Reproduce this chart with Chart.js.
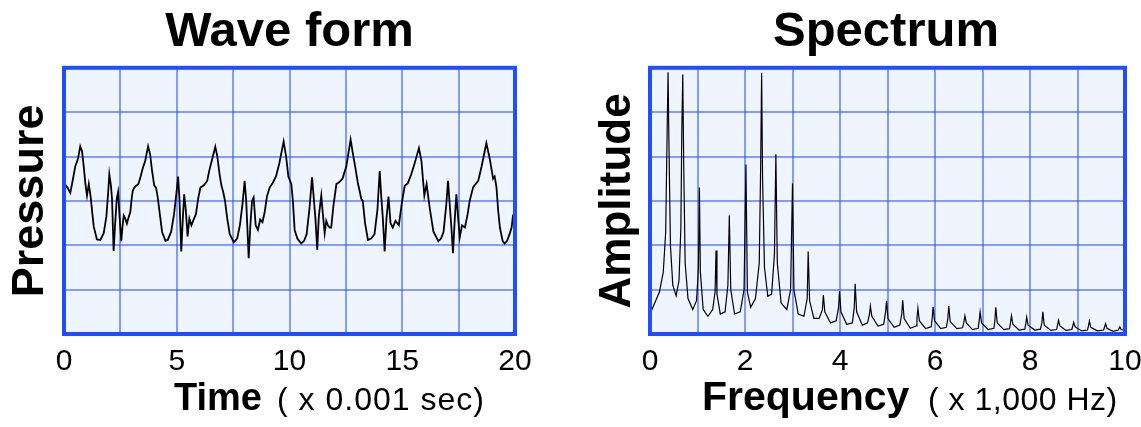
<!DOCTYPE html>
<html><head><meta charset="utf-8">
<script src="https://cdn.jsdelivr.net/npm/chart.js@4"></script>
<style>
html,body{margin:0;padding:0;background:#fff;overflow:hidden;width:1141px;height:427px;position:relative}
#c1{position:absolute;left:0;top:0}
#c2{position:absolute;left:590px;top:0}
</style></head><body>
<canvas id="c1" width="579" height="427"></canvas>
<canvas id="c2" width="592" height="427"></canvas>
<script>
// ---- Wave form (time in ms, pressure in arbitrary units) ----
const waveTime = [
 0.00,0.15,0.28,0.40,0.50,0.62,0.72,0.80,0.88,0.95,1.02,1.10,1.18,1.25,1.32,1.46,1.61,1.76,1.88,1.96,
 2.01,2.08,2.13,2.20,2.27,2.34,2.40,2.47,2.54,2.60,2.65,2.72,2.79,2.86,2.94,3.00,3.05,3.12,3.19,3.30,
 3.40,3.50,3.60,3.73,
 3.82,3.90,4.00,4.08,4.15,4.25,4.35,4.50,4.60,4.75,4.88,4.98,5.06,5.12,5.20,5.27,5.33,5.40,5.48,5.56,
 5.65,5.75,5.85,5.95,6.05,6.20,6.35,6.45,6.55,6.71,
 6.80,6.90,6.98,7.06,7.14,7.24,7.35,7.53,7.68,7.80,7.92,8.01,8.08,8.19,8.27,8.34,8.41,8.50,8.60,8.70,
 8.80,8.90,9.00,9.12,9.25,9.40,9.55,9.74,
 9.85,9.95,10.08,10.15,10.23,10.35,10.52,10.65,10.76,10.88,11.00,11.07,11.15,11.23,11.30,11.41,11.48,11.56,11.63,11.70,
 11.78,11.85,11.95,12.08,12.20,12.35,12.52,12.71,
 12.80,12.92,13.04,13.12,13.18,13.25,13.35,13.48,13.62,13.77,13.90,14.00,14.07,14.14,14.22,14.30,14.39,14.48,14.58,14.70,
 14.85,14.98,15.11,15.25,15.40,15.55,15.74,
 15.85,15.98,16.08,16.15,16.23,16.38,16.60,16.72,16.83,16.95,17.03,17.10,17.18,17.25,17.33,17.40,17.48,17.55,17.65,17.78,
 17.90,17.99,18.14,18.25,18.37,18.52,18.73,
 18.88,19.03,19.10,19.18,19.25,19.33,19.45,19.54,19.65,19.76,19.85,19.91,20.00
];
const wavePressure = [
 0.40,0.30,0.18,0.50,0.78,0.95,1.23,1.12,0.75,0.38,0.12,0.38,0.10,-0.25,-0.58,-0.87,-0.88,-0.73,-0.35,0.20,
 0.60,0.35,0.05,-1.13,-0.50,0.05,0.20,-0.40,-0.91,-0.55,-0.33,-0.40,-0.51,-0.38,-0.25,0.05,0.23,0.30,0.34,0.38,
 0.55,0.75,0.90,1.23,
 1.05,0.70,0.35,0.30,0.10,-0.30,-0.70,-0.90,-0.88,-0.70,-0.30,0.15,0.55,0.05,-1.14,-0.40,0.15,-0.20,-0.80,-0.40,
 -0.55,-0.42,-0.30,0.05,0.30,0.35,0.45,0.70,0.90,1.22,
 1.00,0.60,0.35,0.20,0.00,-0.40,-0.75,-0.93,-0.85,-0.55,-0.05,0.45,0.00,-1.29,-0.50,0.00,0.08,-0.55,-0.65,-0.42,
 -0.48,-0.25,0.10,0.30,0.40,0.55,0.85,1.34,
 1.00,0.55,0.38,0.00,-0.66,-0.85,-0.96,-0.90,-0.75,-0.20,0.53,0.10,-0.40,-1.10,-0.35,0.12,-0.30,-0.73,-0.45,-0.55,
 -0.60,-0.60,-0.10,0.38,0.42,0.50,0.78,1.38,
 1.10,0.75,0.38,0.20,0.05,0.00,-0.50,-0.88,-0.85,-0.75,-0.20,0.67,0.10,-0.40,-1.14,-0.40,0.10,-0.50,-0.60,-0.45,
 -0.55,-0.05,0.34,0.40,0.60,0.85,1.19,
 0.90,0.12,0.38,0.10,-0.20,-0.69,-0.91,-0.85,-0.70,-0.10,0.45,-0.05,-0.60,-1.18,-0.40,0.15,-0.40,-0.82,-0.55,-0.60,
 -0.30,0.00,0.30,0.38,0.45,0.78,1.30,
 0.95,0.50,0.55,0.30,-0.20,-0.60,-0.90,-0.96,-0.90,-0.75,-0.60,-0.33,-0.25
];
const waveTickLabels = [0, 5, 10, 15, 20];

// ---- Spectrum (frequency in kHz, amplitude in arbitrary units) ----
const specFreq = [
 0.00,0.10,0.20,0.28,0.33,0.36,0.38,0.40,0.43,0.48,0.55,0.61,0.65,0.67,0.69,0.71,0.74,0.80,0.90,0.98,
 1.02,1.04,1.06,1.12,1.22,1.32,1.37,1.39,1.41,1.48,1.58,1.64,1.67,1.70,1.78,1.90,1.98,2.02,2.05,2.12,
 2.22,2.30,2.33,2.35,2.37,2.41,2.48,2.56,2.62,2.65,2.68,2.76,2.88,2.96,3.00,3.03,3.12,3.24,3.31,3.33,
 3.36,3.45,3.56,3.63,3.65,3.68,3.80,3.92,3.97,3.99,4.02,4.14,4.26,4.30,4.32,4.35,4.47,4.58,4.62,4.64,
 4.67,4.80,4.92,4.96,4.98,5.01,5.14,5.26,5.30,5.32,5.35,5.48,5.60,5.62,5.64,5.67,5.80,5.92,5.94,5.96,
 5.99,6.12,6.24,6.27,6.29,6.32,6.46,6.58,6.61,6.63,6.66,6.79,6.91,6.93,6.95,6.98,7.12,7.24,7.26,7.28,
 7.31,7.45,7.57,7.59,7.61,7.64,7.77,7.89,7.91,7.93,7.96,8.10,8.22,8.25,8.27,8.30,8.44,8.56,8.58,8.60,
 8.63,8.76,8.88,8.90,8.92,8.95,9.09,9.21,9.23,9.25,9.28,9.42,9.55,9.57,9.59,9.62,9.75,9.86,9.89,9.92,
 10.00
];
const specAmp = [
 0.45,0.70,0.95,1.40,2.30,4.50,5.90,4.20,2.00,1.10,0.86,1.20,2.40,4.60,5.85,3.80,1.60,0.80,0.55,0.75,
 1.50,3.30,1.40,0.55,0.40,0.55,0.95,1.88,0.90,0.45,0.50,1.10,2.67,1.00,0.45,0.50,1.00,3.82,0.95,0.60,
 0.80,1.60,3.80,5.88,3.50,1.50,0.85,0.90,1.80,4.05,1.60,0.70,0.55,1.00,3.39,1.00,0.45,0.40,0.80,1.86,
 0.75,0.35,0.35,0.55,0.88,0.50,0.25,0.30,0.60,0.97,0.50,0.22,0.25,0.60,1.13,0.50,0.20,0.25,0.45,0.63,
 0.40,0.18,0.22,0.50,0.75,0.35,0.15,0.20,0.45,0.76,0.35,0.13,0.18,0.35,0.58,0.30,0.12,0.16,0.35,0.61,
 0.30,0.12,0.15,0.35,0.63,0.28,0.12,0.14,0.28,0.41,0.25,0.10,0.13,0.30,0.50,0.25,0.10,0.13,0.30,0.60,
 0.25,0.10,0.12,0.25,0.41,0.22,0.09,0.11,0.22,0.38,0.20,0.09,0.11,0.25,0.50,0.20,0.08,0.10,0.20,0.31,
 0.18,0.08,0.10,0.18,0.26,0.16,0.07,0.09,0.18,0.29,0.15,0.07,0.09,0.16,0.23,0.13,0.06,0.09,0.16,0.10,
 0.08
];
const specTickLabels = [0, 2, 4, 6, 8, 10];

// ---- styling ----
const FONT = "'Liberation Sans', Arial, Helvetica, sans-serif";
Chart.defaults.font.family = FONT;
Chart.defaults.color = '#000';
const PLOT_BG = '#eff5ff';
const GRID = 'rgba(40,80,255,0.55)';
const FRAME = '#1f4dff';

const bgPlugin = {
  id: 'bg',
  beforeDraw(chart) {
    const a = chart.chartArea, c = chart.ctx;
    c.save(); c.fillStyle = PLOT_BG;
    c.fillRect(a.left, a.top, a.right - a.left, a.bottom - a.top);
    c.restore();
  }
};
const framePlugin = {
  id: 'frame',
  afterDatasetsDraw(chart) {
    const a = chart.chartArea, c = chart.ctx;
    c.save(); c.strokeStyle = FRAME; c.lineWidth = 4;
    c.strokeRect(a.left, a.top, a.right - a.left, a.bottom - a.top);
    c.restore();
  },
  afterDraw(chart, args, o) {
    if (!o || !o.main) return;
    const c = chart.ctx;
    c.save(); c.fillStyle = '#000'; c.textBaseline = 'alphabetic'; c.textAlign = 'left';
    c.font = 'bold ' + o.mainSize + 'px ' + FONT;
    c.fillText(o.main, o.mainX, o.baseY);
    c.font = o.subSize + 'px ' + FONT;
    if ('letterSpacing' in c) c.letterSpacing = o.subSpacing;
    c.fillText(o.sub, o.subX, o.baseY);
    c.restore();
  }
};

function makeChart(id, cfg) {
  return new Chart(document.getElementById(id), {
    type: 'line',
    data: { datasets: [{
      data: cfg.xs.map((x, i) => ({ x: x, y: cfg.ys[i] })),
      borderColor: '#000', borderWidth: cfg.lw, pointRadius: 0, tension: 0, fill: false
    }]},
    options: {
      responsive: false, animation: false, events: [],
      layout: { padding: 0 },
      plugins: {
        legend: { display: false }, tooltip: { enabled: false },
        title: { display: true, text: cfg.title, color: '#000',
                 font: { size: 49, weight: 'bold' }, padding: { top: 3, bottom: 6 } },
        frame: cfg.frame
      },
      scales: {
        x: { type: 'linear', min: cfg.xmin, max: cfg.xmax,
             grid: { color: GRID, lineWidth: 2, drawTicks: false },
             border: { display: false },
             ticks: { stepSize: cfg.xstep, autoSkip: false, maxRotation: 0, padding: 10,
                      font: { size: 30 }, color: '#000',
                      callback: v => cfg.labels.includes(v) ? String(v) : '' },
             afterFit: s => { s.height = 93; } },
        y: { type: 'linear', min: cfg.ymin, max: cfg.ymax,
             grid: { color: GRID, lineWidth: 2, drawTicks: false },
             border: { display: false },
             ticks: { display: false, stepSize: 1 },
             title: { display: true, text: cfg.ytitle, color: '#000',
                      font: { size: cfg.ytsize, weight: 'bold' }, padding: { top: cfg.ytpad, bottom: 0 } },
             afterFit: s => { s.width = cfg.leftW; } },
        yR: { type: 'linear', position: 'right', display: true,
              grid: { display: false }, border: { display: false }, ticks: { display: false },
              afterFit: s => { s.width = cfg.rightW; } }
      }
    },
    plugins: [bgPlugin, framePlugin]
  });
}

makeChart('c1', {
  xs: waveTime, ys: wavePressure, lw: 1.8, title: 'Wave form',
  xmin: 0, xmax: 20, xstep: 2.5, labels: waveTickLabels,
  ymin: -3, ymax: 3, ytitle: 'Pressure', ytsize: 45, ytpad: 4, leftW: 64, rightW: 64,
  frame: { main: 'Time', sub: '( x 0.001 sec)', mainX: 174, subX: 277, baseY: 410, mainSize: 38, subSize: 32, subSpacing: '1px' }
});
makeChart('c2', {
  xs: specFreq, ys: specAmp, lw: 1.2, title: 'Spectrum',
  xmin: 0, xmax: 10, xstep: 1, labels: specTickLabels,
  ymin: 0, ymax: 6, ytitle: 'Amplitude', ytsize: 44, ytpad: 1, leftW: 60, rightW: 57,
  frame: { main: 'Frequency', sub: '( x 1,000 Hz)', mainX: 112, subX: 338, baseY: 410, mainSize: 41, subSize: 32, subSpacing: '0.5px' }
});
</script>
</body></html>
